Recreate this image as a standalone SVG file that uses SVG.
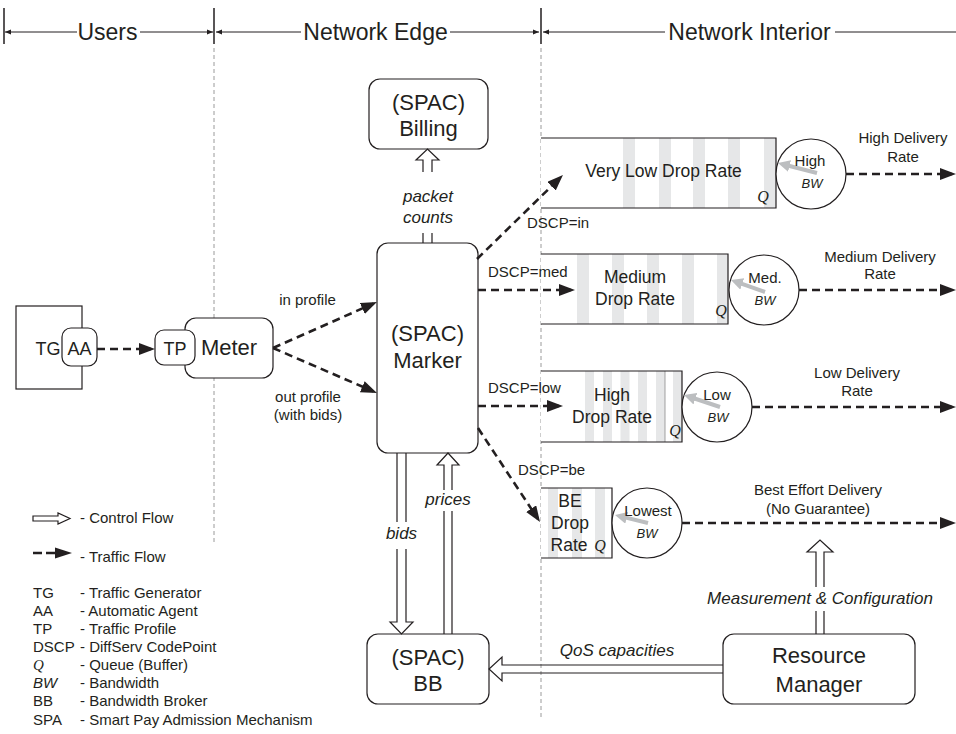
<svg xmlns="http://www.w3.org/2000/svg" width="956" height="734" viewBox="0 0 956 734">
<style>
text{font-family:"Liberation Sans",Arial,sans-serif;fill:#231f20}
.c{text-anchor:middle}
.hd{font-size:23px}
.big{font-size:22px}
.mid{font-size:18px}
.q{font-size:17.5px}
.lbl{font-size:15px}
.it{font-style:italic;font-size:17px}
.bw{font-style:italic;font-size:13px}
.Q{font-family:"Liberation Serif","Times New Roman",serif;font-style:italic;font-size:16px}
.box{fill:#fff;stroke:#231f20;stroke-width:1.2}
.ln{fill:none;stroke:#231f20;stroke-width:1.2}
.vd{stroke:#9a9a9a;stroke-width:1;stroke-dasharray:4 3;fill:none}
.stripe{fill:#e6e7e8}
.traffic{fill:none;stroke:#231f20;stroke-width:2.6;stroke-dasharray:8 5;marker-end:url(#ah)}
.ctrl{fill:none;stroke:#231f20;stroke-width:1.2}
.gray{stroke:#bcbec0;stroke-width:4;fill:none;marker-end:url(#gh)}
</style>
<defs>
<marker id="ah" markerUnits="userSpaceOnUse" markerWidth="17" markerHeight="13" refX="12" refY="6" orient="auto">
<path d="M0,0 L16,6 L0,12 Z" fill="#231f20"/>
</marker>
<marker id="gh" markerUnits="userSpaceOnUse" markerWidth="14" markerHeight="13" refX="4" refY="6" orient="auto">
<path d="M0,0 L12,6 L0,12 Z" fill="#bcbec0"/>
</marker>
</defs>

<g id="header">
<path class="vd" d="M214,48 V543 M541,48 V720"/>
<path d="M4,8 V44 M214,8 V44 M541,8 V44" stroke="#231f20" stroke-width="1.5"/>
<path d="M5,32 H77 M140,32 H213 M216,32 H301 M450,32 H539 M543,32 H665 M835,32 H956" stroke="#231f20" stroke-width="1"/>
<path d="M5,32 L11,29.5 L11,34.5 Z M213,32 L207,29.5 L207,34.5 Z M216,32 L222,29.5 L222,34.5 Z M539,32 L533,29.5 L533,34.5 Z M543,32 L549,29.5 L549,34.5 Z" fill="#231f20"/>
<text class="hd c" x="107.5" y="40">Users</text>
<text class="hd c" x="375.5" y="40">Network Edge</text>
<text class="hd c" x="749.5" y="40">Network Interior</text>
</g>

<g id="tg">
<rect class="box" x="16" y="306" width="66" height="83"/>
<text class="mid c" x="48" y="355">TG</text>
</g>
<g id="aa">
<rect class="box" x="62" y="328" width="35" height="38" rx="9"/>
<text class="mid c" x="79.5" y="355">AA</text>
</g>
<g id="meter">
<rect class="box" x="185" y="318" width="88" height="60" rx="11"/>
<text class="big c" x="229" y="355">Meter</text>
</g>
<g id="tp">
<rect class="box" x="155" y="330" width="40" height="35" rx="9"/>
<text class="mid c" x="175" y="355">TP</text>
</g>

<g id="billing">
<rect class="box" x="369" y="79" width="119" height="70" rx="11"/>
<text class="big c" x="428.5" y="110">(SPAC)</text>
<text class="big c" x="428.5" y="136">Billing</text>
</g>
<g id="marker">
<rect class="box" x="377" y="243" width="101" height="210" rx="11"/>
<text class="big c" x="427.5" y="341">(SPAC)</text>
<text class="big c" x="427.5" y="368">Marker</text>
</g>
<g id="bb">
<rect class="box" x="367" y="634" width="122" height="70" rx="11"/>
<text class="big c" x="428" y="665">(SPAC)</text>
<text class="big c" x="428" y="691">BB</text>
</g>
<g id="rm">
<rect class="box" x="723" y="634" width="192" height="70" rx="11"/>
<text class="big c" x="819" y="663">Resource</text>
<text class="big c" x="819" y="692">Manager</text>
</g>

<g id="queue-in">
<rect x="541" y="138" width="235" height="70" fill="#fff"/>
<rect class="stripe" x="623" y="138" width="12" height="70"/>
<rect class="stripe" x="659" y="138" width="12" height="70"/>
<rect class="stripe" x="693" y="138" width="12" height="70"/>
<rect class="stripe" x="728" y="138" width="12" height="70"/>
<rect class="stripe" x="764" y="138" width="12" height="70"/>
<path class="ln" d="M541,138 H776 V208 H541"/>
<text class="q c" x="663.5" y="177">Very Low Drop Rate</text>
<text class="Q c" x="763" y="202">Q</text>
</g>
<g id="sched-high">
<circle class="box" cx="811" cy="174" r="35"/>
<line class="gray" x1="817" y1="173" x2="785.7" y2="165"/>
<text class="lbl c" x="810" y="166">High</text>
<text class="bw c" x="812" y="188">BW</text>
</g>

<g id="queue-med">
<rect x="541" y="254" width="187" height="70" fill="#fff"/>
<rect class="stripe" x="577" y="254" width="12" height="70"/>
<rect class="stripe" x="612" y="254" width="12" height="70"/>
<rect class="stripe" x="647" y="254" width="12" height="70"/>
<rect class="stripe" x="682" y="254" width="12" height="70"/>
<rect class="stripe" x="717" y="254" width="11" height="70"/>
<path class="ln" d="M541,254 H728 V324 H541"/>
<text class="q c" x="635" y="283">Medium</text>
<text class="q c" x="635" y="305">Drop Rate</text>
<text class="Q c" x="721" y="316">Q</text>
</g>
<g id="sched-med">
<circle class="box" cx="764" cy="290" r="35"/>
<line class="gray" x1="765" y1="292" x2="738.5" y2="282.7"/>
<text class="lbl c" x="765" y="283">Med.</text>
<text class="bw c" x="765" y="305">BW</text>
</g>

<g id="queue-low">
<rect x="541" y="371" width="141" height="71" fill="#fff"/>
<rect class="stripe" x="585" y="371" width="9" height="71"/>
<rect class="stripe" x="603" y="371" width="9" height="71"/>
<rect class="stripe" x="620.5" y="371" width="9" height="71"/>
<rect class="stripe" x="638" y="371" width="9" height="71"/>
<rect class="stripe" x="656" y="371" width="9" height="71"/>
<rect class="stripe" x="673" y="371" width="9" height="71"/>
<line x1="665" y1="371" x2="665" y2="442" stroke="#8a8a8a" stroke-width="0.8"/>
<path class="ln" d="M541,371 H682 V442 H541"/>
<text class="q c" x="612" y="401">High</text>
<text class="q c" x="612" y="423">Drop Rate</text>
<text class="Q c" x="675" y="436">Q</text>
</g>
<g id="sched-low">
<circle class="box" cx="717" cy="407" r="35"/>
<line class="gray" x1="720" y1="407" x2="691.6" y2="397.5"/>
<text class="lbl c" x="717" y="400">Low</text>
<text class="bw c" x="718" y="422">BW</text>
</g>

<g id="queue-be">
<rect x="541" y="488" width="71" height="70" fill="#fff"/>
<rect class="stripe" x="548" y="488" width="10" height="70"/>
<rect class="stripe" x="572" y="488" width="10" height="70"/>
<rect class="stripe" x="595" y="488" width="10" height="70"/>
<path class="ln" d="M541,488 H612 V558 H541"/>
<text class="q c" x="570" y="507">BE</text>
<text class="q c" x="570" y="529">Drop</text>
<text class="q c" x="569" y="551">Rate</text>
<text class="Q c" x="600" y="551">Q</text>
</g>
<g id="sched-be">
<circle class="box" cx="647" cy="523" r="35"/>
<line class="gray" x1="648" y1="523" x2="622.8" y2="516.9"/>
<text class="lbl c" x="648" y="516">Lowest</text>
<text class="bw c" x="647" y="538">BW</text>
</g>

<g id="connectors">
<line class="traffic" x1="97" y1="349" x2="151" y2="349"/>
<line class="traffic" x1="273" y1="348" x2="373.3" y2="303.6"/>
<line class="traffic" x1="273" y1="348" x2="373.3" y2="391.4"/>
<line class="traffic" x1="477" y1="259" x2="560.1" y2="177.8"/>
<line class="traffic" x1="478" y1="290" x2="571" y2="290"/>
<line class="traffic" x1="478" y1="406" x2="559" y2="406"/>
<line class="traffic" x1="478" y1="428" x2="537.8" y2="518.7"/>
<line class="traffic" x1="846" y1="174" x2="952" y2="174"/>
<line class="traffic" x1="799" y1="290" x2="952" y2="290"/>
<line class="traffic" x1="752" y1="407" x2="952" y2="407"/>
<line class="traffic" x1="682" y1="523" x2="952" y2="523"/>
<path class="ctrl" d="M423,243 V233 M432,243 V233 M423,172 V160 H416 L427.5,149 L439,160 H432 V172"/>
<path class="ctrl" d="M397,453 V522 M406,453 V522 M397,549 V622 H390 L401.5,634 L413,622 H406 V549"/>
<path class="ctrl" d="M444,634 V511 M452,634 V511 M444,490 V465 H437 L448,453 L459,465 H452 V490"/>
<path class="ctrl" d="M723,665 H502 V657 L489,669 L502,681 V673 H723"/>
<path class="ctrl" d="M816,634 V611 M824,634 V611 M816,587 V552 H807 L820,540 L833,552 H824 V587"/>
</g>

<g id="labels">
<text class="lbl c" x="307.5" y="305">in profile</text>
<text class="lbl c" x="308" y="402">out profile</text>
<text class="lbl c" x="308" y="420">(with bids)</text>
<text class="it c" x="428" y="202">packet</text>
<text class="it c" x="428" y="223">counts</text>
<text class="it c" x="401.5" y="539">bids</text>
<text class="it c" x="448" y="505">prices</text>
<text class="it c" x="617" y="656">QoS capacities</text>
<text class="it c" x="820" y="604">Measurement &amp; Configuration</text>
<text class="lbl" x="527" y="228">DSCP=in</text>
<text class="lbl" x="488" y="277">DSCP=med</text>
<text class="lbl" x="488" y="393">DSCP=low</text>
<text class="lbl" x="518" y="475">DSCP=be</text>
<text class="lbl c" x="903" y="143">High Delivery</text>
<text class="lbl c" x="903" y="162">Rate</text>
<text class="lbl c" x="880" y="262">Medium Delivery</text>
<text class="lbl c" x="880" y="279">Rate</text>
<text class="lbl c" x="857" y="378">Low Delivery</text>
<text class="lbl c" x="857" y="396">Rate</text>
<text class="lbl c" x="818" y="495">Best Effort Delivery</text>
<text class="lbl c" x="818" y="514">(No Guarantee)</text>
</g>

<g id="legend">
<path class="ctrl" d="M33,516 H58 V513 L70,518.5 L58,524 V521 H33 Z"/>
<text class="lbl" x="80" y="523">- Control Flow</text>
<line x1="33" y1="553" x2="60" y2="553" stroke="#231f20" stroke-width="2.6" stroke-dasharray="9 4"/>
<path d="M55,547.5 L72,553 L55,558.5 Z" fill="#231f20"/>
<text class="lbl" x="80" y="562">- Traffic Flow</text>
<text class="lbl" x="33" y="598">TG</text><text class="lbl" x="80" y="598">- Traffic Generator</text>
<text class="lbl" x="33" y="616">AA</text><text class="lbl" x="80" y="616">- Automatic Agent</text>
<text class="lbl" x="33" y="634">TP</text><text class="lbl" x="80" y="634">- Traffic Profile</text>
<text class="lbl" x="33" y="652">DSCP</text><text class="lbl" x="80" y="652">- DiffServ CodePoint</text>
<text class="Q" x="33" y="670" style="font-size:15px">Q</text><text class="lbl" x="80" y="670">- Queue (Buffer)</text>
<text class="lbl" x="33" y="688" style="font-style:italic">BW</text><text class="lbl" x="80" y="688">- Bandwidth</text>
<text class="lbl" x="33" y="706">BB</text><text class="lbl" x="80" y="706">- Bandwidth Broker</text>
<text class="lbl" x="33" y="725">SPA</text><text class="lbl" x="80" y="725">- Smart Pay Admission Mechanism</text>
</g>
</svg>
